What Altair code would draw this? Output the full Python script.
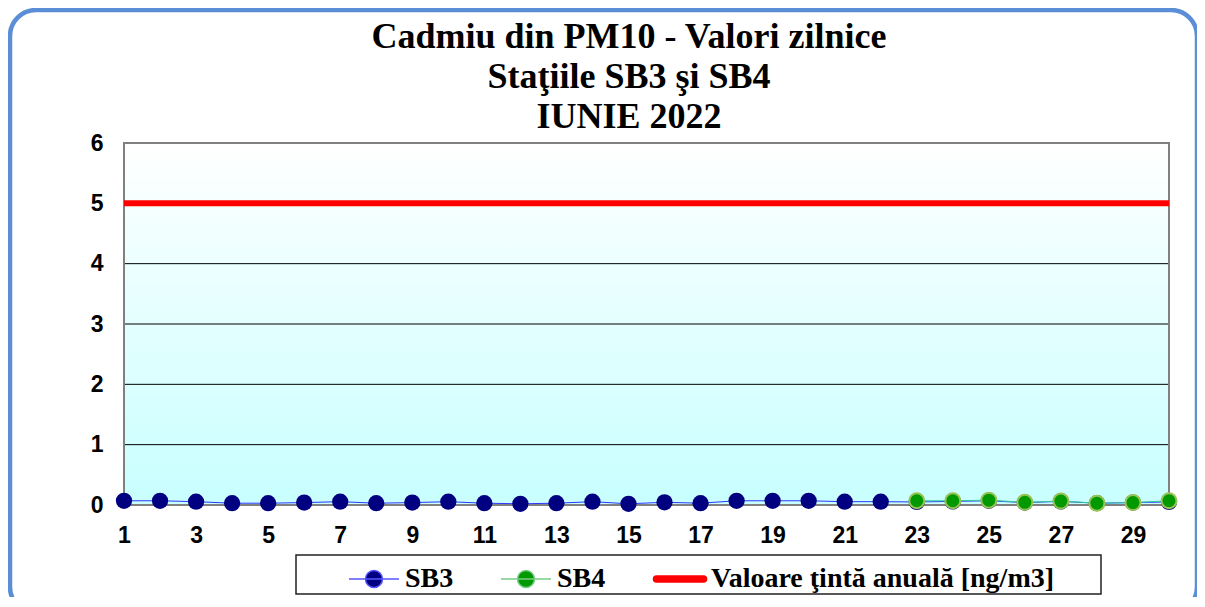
import altair as alt
import pandas as pd

# ---------------- data ----------------
days_sb3 = list(range(1, 31))
sb3_values = [0.07, 0.07, 0.055, 0.03, 0.03, 0.04, 0.055, 0.03, 0.04, 0.055,
              0.03, 0.02, 0.03, 0.055, 0.02, 0.045, 0.03, 0.07, 0.07, 0.07,
              0.055, 0.055, 0.05, 0.06, 0.07, 0.04, 0.06, 0.03, 0.04, 0.05]
days_sb4 = list(range(23, 31))
sb4_values = [0.07, 0.07, 0.08, 0.045, 0.065, 0.03, 0.04, 0.07]
target_value = [5]
grid_values = [0, 1, 2, 3, 4, 5, 6]
x_tick_values = list(range(1, 30, 2))
series_names = ["SB3", "SB4", "Valoare ţintă anuală [ng/m3]"]
title_lines = ["Cadmiu din PM10 - Valori zilnice", "Staţiile SB3 şi SB4", "IUNIE 2022"]

# ---------------- layout ----------------
W, H = 1045, 362
PAD = {"left": 116, "top": 135, "right": 28, "bottom": 92}

df3 = pd.DataFrame({"day": days_sb3, "value": sb3_values})
df4 = pd.DataFrame({"day": days_sb4, "value": sb4_values})
grid_df = pd.DataFrame({"v": grid_values})
target_df = pd.DataFrame({"v": target_value})
leg_df = pd.DataFrame({"series": series_names})
one = pd.DataFrame({"a": [0]})

x_scale = alt.Scale(domain=[1, 30], nice=False, zero=False)
y_scale = alt.Scale(domain=[0, 6], nice=False)

label_style = dict(labelFont="Liberation Sans", labelFontWeight="bold",
                   labelFontSize=23, labelColor="black")
x_axis = alt.Axis(values=x_tick_values, ticks=False, domain=False, grid=False,
                  title=None, labelPadding=19, labelFlush=False, **label_style)
y_axis = alt.Axis(values=grid_values, ticks=False, domain=False, grid=False,
                  title=None, labelPadding=21, **label_style)

# ---------------- decorations ----------------
outer = alt.Chart(one).mark_rect(
    cornerRadius=26, fill="transparent", stroke="#5B8ED6", strokeWidth=4.5
).encode(x=alt.value(-114), x2=alt.value(1073), y=alt.value(-133), y2=alt.value(470))

title_text = alt.Chart(one).mark_text(
    text=title_lines, font="Liberation Serif", fontSize=36, fontWeight="bold",
    color="black", align="center", baseline="alphabetic", lineHeight=40,
).encode(x=alt.value(505), y=alt.value(-95))

legend_box = alt.Chart(one).mark_rect(
    fill="white", stroke="#222222", strokeWidth=1.5
).encode(x=alt.value(172), x2=alt.value(977), y=alt.value(412), y2=alt.value(451))

gradient_bg = alt.Chart(one).mark_rect(
    fill=alt.Gradient(
        gradient="linear",
        stops=[alt.GradientStop(color="#ffffff", offset=0),
               alt.GradientStop(color="#c8ffff", offset=1)],
        x1=0, x2=0, y1=0, y2=1,
    )
).encode(x=alt.value(0), x2=alt.value(W), y=alt.value(0), y2=alt.value(H))

frame = alt.Chart(one).mark_rect(
    fill="transparent", stroke="#808080", strokeWidth=2
).encode(x=alt.value(0), x2=alt.value(W), y=alt.value(0), y2=alt.value(H))

grid = alt.Chart(grid_df).mark_rule(color="black", strokeWidth=1).encode(
    y=alt.Y("v:Q", scale=y_scale, axis=y_axis)
)

target_rule = alt.Chart(target_df).mark_rule(color="#ff0000", strokeWidth=6).encode(
    y=alt.Y("v:Q", scale=y_scale, axis=y_axis)
)

X = alt.X("day:Q", scale=x_scale, axis=x_axis)
Y = alt.Y("value:Q", scale=y_scale, axis=y_axis)

line3 = alt.Chart(df3).mark_line(color="#3333ff", strokeWidth=1).encode(x=X, y=Y)
pts3 = alt.Chart(df3).mark_circle(size=265, color="#000080", opacity=1).encode(x=X, y=Y)
line4 = alt.Chart(df4).mark_line(color="#33cc99", strokeWidth=1).encode(x=X, y=Y)
pts4 = alt.Chart(df4).mark_circle(
    size=225, fill="#009900", stroke="#99c455", strokeWidth=2, opacity=1
).encode(x=X, y=Y)

# ---------------- legend (via library legend) ----------------
circ = "M-0.34,0A0.34,0.34 0 1,0 0.34,0A0.34,0.34 0 1,0 -0.34,0Z"
path_line_circle = "M-1,0H1" + circ
path_thick = "M-0.94,-0.12H0.94A0.12,0.12 0 0,1 0.94,0.12H-0.94A0.12,0.12 0 0,1 -0.94,-0.12Z"

fill_scale = alt.Scale(domain=series_names, range=["#000080", "#009900", "#ff0000"])
stroke_scale = alt.Scale(domain=series_names, range=["#5555ff", "#77cc88", "#ff0000"])
shape_scale = alt.Scale(domain=series_names, range=[path_line_circle, path_line_circle, path_thick])

leg = alt.Legend(
    title=None, orient="none", legendX=224, legendY=410, direction="horizontal",
    columns=3, labelFont="Liberation Serif", labelFontWeight="bold", labelFontSize=28,
    labelColor="black", labelLimit=700, symbolSize=2500, symbolStrokeWidth=1.5,
    columnPadding=44, labelOffset=5, padding=0,
)

legend_layer = alt.Chart(leg_df).mark_point(filled=True, strokeWidth=1.5, opacity=1).encode(
    x=alt.value(-3000), y=alt.value(-3000),
    fill=alt.Fill("series:N", scale=fill_scale, legend=leg),
    stroke=alt.Stroke("series:N", scale=stroke_scale, legend=leg),
    shape=alt.Shape("series:N", scale=shape_scale, legend=leg),
)

chart = alt.layer(
    outer, title_text, legend_box, gradient_bg, grid, frame, target_rule,
    line3, pts3, line4, pts4, legend_layer,
).properties(
    width=W, height=H,
    autosize=alt.AutoSizeParams(type="none"),
    padding=PAD,
    background="white",
).configure_view(strokeWidth=0)

chart.save("out.html", embed_options={"renderer": "svg", "actions": False})
